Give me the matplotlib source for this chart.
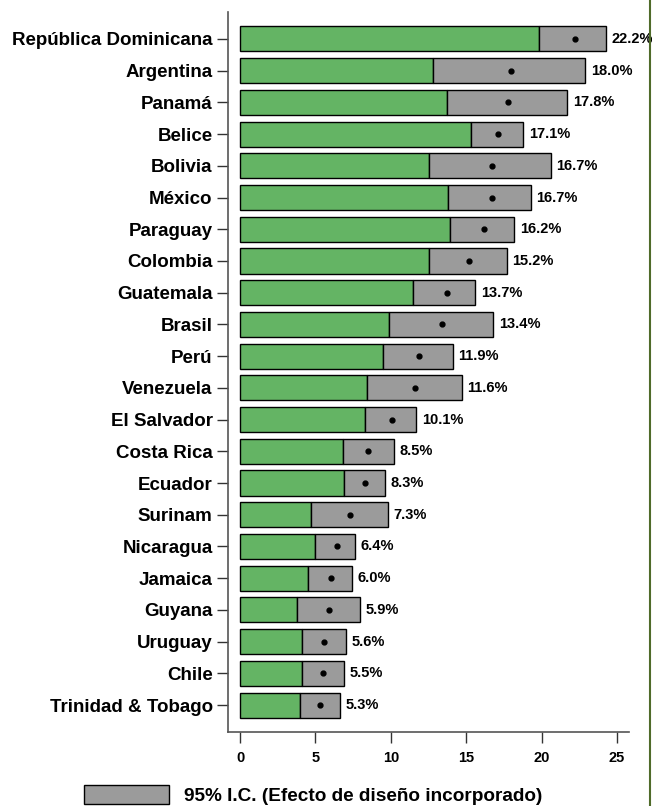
import numpy as np
import matplotlib.pyplot as plt
from matplotlib.patches import Patch
from matplotlib.lines import Line2D

# countries, top to bottom
countries = ['República Dominicana', 'Argentina', 'Panamá', 'Belice', 'Bolivia',
             'México', 'Paraguay', 'Colombia', 'Guatemala', 'Brasil', 'Perú',
             'Venezuela', 'El Salvador', 'Costa Rica', 'Ecuador', 'Surinam',
             'Nicaragua', 'Jamaica', 'Guyana', 'Uruguay', 'Chile',
             'Trinidad & Tobago']
estimate = [22.2, 18.0, 17.8, 17.1, 16.7, 16.7, 16.2, 15.2, 13.7, 13.4, 11.9,
            11.6, 10.1, 8.5, 8.3, 7.3, 6.4, 6.0, 5.9, 5.6, 5.5, 5.3]
ci_low = [19.8, 12.8, 13.7, 15.3, 12.5, 13.8, 13.9, 12.5, 11.5, 9.9, 9.5,
          8.4, 8.3, 6.8, 6.9, 4.7, 5.0, 4.5, 3.75, 4.1, 4.1, 4.0]
ci_high = [24.3, 22.9, 21.7, 18.8, 20.6, 19.3, 18.2, 17.7, 15.6, 16.8, 14.1,
           14.7, 11.7, 10.2, 9.6, 9.8, 7.6, 7.4, 7.96, 7.0, 6.9, 6.6]
xticks = [0, 5, 10, 15, 20, 25]

GREEN = '#64b464'
GRAY = '#9b9b9b'
FONT = 'Liberation Sans'

fig = plt.figure(figsize=(6.52, 8.06), dpi=100)
ax = fig.add_axes([228/652, 1 - 732/806, (629-228)/652, (732-12)/806])

y = np.arange(len(countries))
low = np.array(ci_low)
high = np.array(ci_high)
ax.barh(y, low, height=0.79, color=GREEN, edgecolor='black', linewidth=1.0)
ax.barh(y, high - low, left=low, height=0.79, color=GRAY, edgecolor='black',
        linewidth=1.0)
ax.plot(estimate, y, 'o', color='black', markersize=3.5)

for yi, h, e in zip(y, high, estimate):
    ax.annotate(f'{e:.1f}%', (h, yi), xytext=(4, 0), textcoords='offset points',
                va='center', ha='left', fontsize=10.5, fontweight='bold',
                family=FONT, annotation_clip=False)

ax.set_xlim(-0.8, 25.8)
ax.set_ylim(len(countries) - 0.15, -0.85)
ax.set_yticks(y)
ax.set_yticklabels(countries, fontsize=13.5, fontweight='bold', family=FONT)
ax.set_xticks(xticks)
ax.set_xticklabels([str(t) for t in xticks], fontsize=10.5, fontweight='bold',
                   family=FONT)
ax.tick_params(axis='y', length=8, width=1, pad=3, color='#333333')
ax.tick_params(axis='x', length=8, width=1, pad=6, color='#333333')
for s in ['top', 'right']:
    ax.spines[s].set_visible(False)
for s in ['left', 'bottom']:
    ax.spines[s].set_color('#555555')
    ax.spines[s].set_linewidth(1.2)

fig.legend(handles=[Patch(facecolor=GRAY, edgecolor='black',
                          label='95% I.C. (Efecto de diseño incorporado)')],
           loc='center', bbox_to_anchor=(313/652, 1 - 795/806), frameon=False,
           handlelength=4.45, handleheight=1.15, handletextpad=0.8,
           borderpad=0, borderaxespad=0,
           prop={'family': FONT, 'weight': 'bold', 'size': 13.7})

fig.add_artist(Line2D([650/652, 650/652], [0, 1], color='#4f6b2a', linewidth=1.5,
                      transform=fig.transFigure))

fig.savefig('out.png', dpi=100)
